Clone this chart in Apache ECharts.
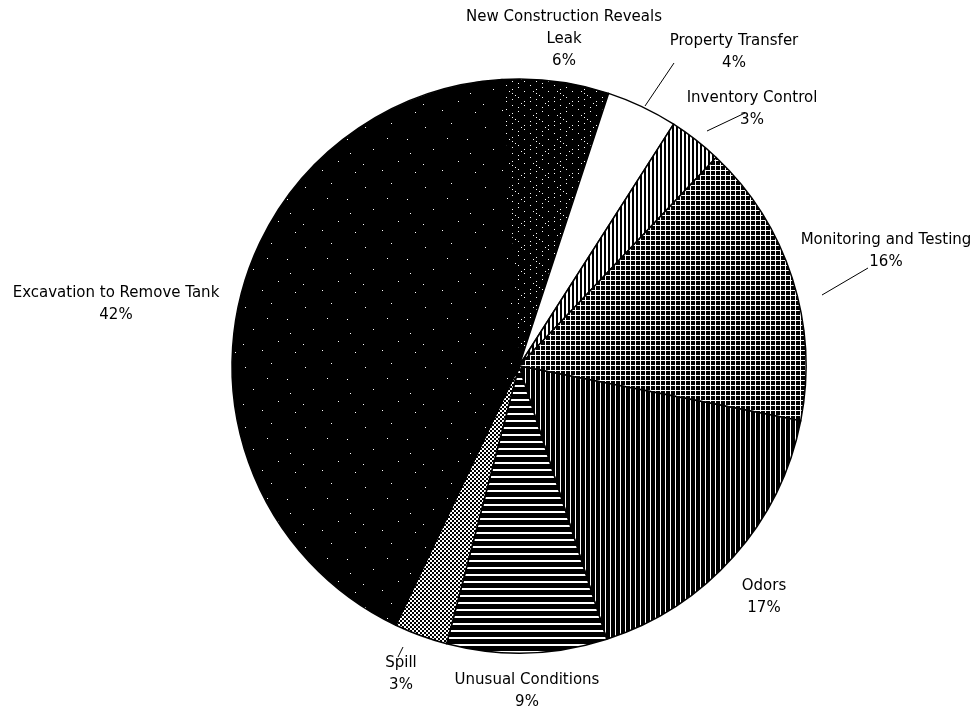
<!DOCTYPE html>
<html><head><meta charset="utf-8">
<script src="https://cdn.jsdelivr.net/npm/echarts@6/dist/echarts.min.js"></script>
<style>html,body{margin:0;padding:0;background:#fff}#c{width:979px;height:710px}</style>
</head><body><div id="c"></div>
<script>
const categories = ["New Construction Reveals Leak","Property Transfer","Inventory Control","Monitoring and Testing","Odors","Unusual Conditions","Spill","Excavation to Remove Tank"];
const labelTexts = ["New Construction Reveals\nLeak","Property Transfer","Inventory Control","Monitoring and Testing","Odors","Unusual Conditions","Spill","Excavation to Remove Tank"];
const values = [6,4,3,16,17,9,3,42];

function tile(w,h,draw){const c=document.createElement('canvas');c.width=w;c.height=h;const g=c.getContext('2d');draw(g,w,h);return c;}
const pats = [
 tile(24,24,(g,w,h)=>{g.fillStyle='#000';g.fillRect(0,0,w,h);g.fillStyle='#fff';
   const pts=[[2,1],[2,5],[2,13],[8,3],[8,9],[8,17],[8,21],[14,1],[14,11],[14,15],[20,5],[20,9],[20,19],[5,19],[17,7],[11,23]];
   pts.forEach(p=>g.fillRect(p[0],p[1],1,1));}),
 tile(4,4,(g,w,h)=>{g.fillStyle='#fff';g.fillRect(0,0,w,h);}),
 tile(4,4,(g,w,h)=>{g.fillStyle='#fff';g.fillRect(0,0,w,h);g.fillStyle='#000';g.fillRect(0,0,2,h);}),
 tile(5,5,(g,w,h)=>{g.fillStyle='#000';g.fillRect(0,0,w,h);g.fillStyle='#fff';g.fillRect(0,0,1,h);g.fillRect(0,0,w,1);}),
 tile(5,5,(g,w,h)=>{g.fillStyle='#000';g.fillRect(0,0,w,h);g.fillStyle='#fff';g.fillRect(0,0,1,h);}),
 tile(7,7,(g,w,h)=>{g.fillStyle='#000';g.fillRect(0,0,w,h);g.fillStyle='#fff';g.fillRect(0,0,w,2);}),
 tile(4,4,(g,w,h)=>{g.fillStyle='#fff';g.fillRect(0,0,w,h);g.fillStyle='#000';g.fillRect(0,0,2,2);g.fillRect(2,2,2,2);}),
 tile(60,60,(g,w,h)=>{g.fillStyle='#000';g.fillRect(0,0,w,h);g.fillStyle='#fff';
   const pts=[[5,7],[31,3],[47,19],[13,29],[38,41],[55,52],[22,50],[3,44],[50,33],[27,18]];
   pts.forEach(p=>g.fillRect(p[0],p[1],1,1));})
];
const labelPlace = [
 [564,39,null],
 [734,52,[[645,106],[674,63]]],
 [752,109,[[707,131],[745,113]]],
 [886,251,[[822,295],[868,268]]],
 [764,597,null],
 [527,691,null],
 [401,674,[[398,657],[403,647]]],
 [116,304,null]
];

const chart = echarts.init(document.getElementById('c'));
chart.setOption({
  animation:false,
  series:[{
    type:'pie',
    center:[519,366],
    radius:287,
    startAngle:93.4,
    clockwise:true,
    data: categories.map((n,i)=>({name:n,value:values[i],
      itemStyle:{color:{image:pats[i],repeat:'repeat'}},
      labelLine:{show: !!labelPlace[i][2]}})),
    itemStyle:{borderColor:'#000',borderWidth:1.5},
    label:{show:true,position:'outside',fontFamily:'DejaVu Sans, sans-serif',fontSize:15,color:'#000',lineHeight:22,align:'center',
      width:320,overflow:'none',
      formatter:p=>labelTexts[p.dataIndex]+'\n'+values[p.dataIndex]+'%'},
    labelLine:{lineStyle:{color:'#000',width:1}},
    emphasis:{disabled:true},
    labelLayout:function(p){const lp=labelPlace[p.dataIndex];
      const r={x:lp[0],y:lp[1],align:'center',verticalAlign:'middle'};
      if(lp[2]) r.labelLinePoints=lp[2];
      return r;}
  }]
});
</script></body></html>
